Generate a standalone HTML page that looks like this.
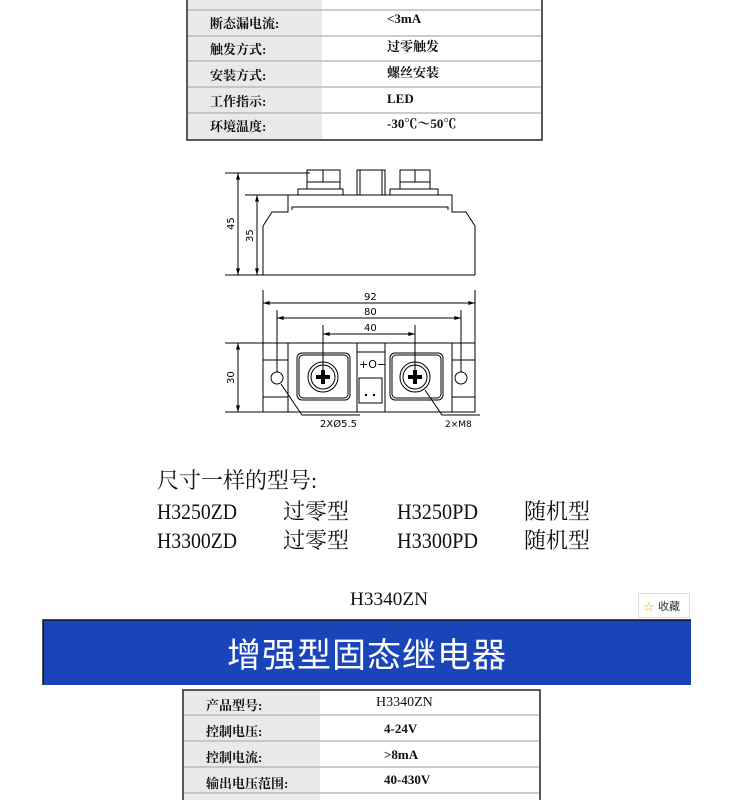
<!DOCTYPE html>
<html><head><meta charset="utf-8"><style>
html,body{margin:0;padding:0;background:#fff;width:750px;height:800px;overflow:hidden}
</style></head><body>
<svg width="750" height="800" viewBox="0 0 750 800" xmlns="http://www.w3.org/2000/svg" style="display:block">
<defs>
<marker id="a" viewBox="0 0 10 6" refX="10" refY="3" markerWidth="8" markerHeight="4" orient="auto-start-reverse"><path d="M0,0L10,3L0,6z" fill="#000"/></marker>
</defs>
<!-- Table 1 -->
<g font-family="Liberation Serif,'Noto Serif CJK SC',serif" font-size="13" font-weight="bold" fill="#111">
<rect x="187" y="-2" width="355" height="142" fill="#fff" stroke="#222" stroke-width="1.5"/>
<rect x="188" y="0" width="134" height="139" fill="#e9e9e9"/>
<g stroke="#bbb" stroke-width="1.5">
<line x1="188" y1="10" x2="541" y2="10"/><line x1="188" y1="36" x2="541" y2="36"/>
<line x1="188" y1="61" x2="541" y2="61"/><line x1="188" y1="87" x2="541" y2="87"/>
<line x1="188" y1="113" x2="541" y2="113"/></g>
<text x="210" y="28">断态漏电流:</text>
<text x="210" y="54">触发方式:</text>
<text x="210" y="80">安装方式:</text>
<text x="210" y="106">工作指示:</text>
<text x="210" y="131">环境温度:</text>
<text x="387" y="23">&lt;3mA</text>
<text x="387" y="51">过零触发</text>
<text x="387" y="77">螺丝安装</text>
<text x="387" y="103">LED</text>
<text x="387" y="128">-30℃～50℃</text>
</g>
<!-- Side view -->
<g stroke="#000" stroke-width="1" fill="none">
<line x1="225" y1="173" x2="310" y2="173"/>
<line x1="245" y1="195" x2="290" y2="195"/>
<line x1="225" y1="275" x2="475" y2="275"/>
<line x1="238" y1="173" x2="238" y2="275" marker-start="url(#a)" marker-end="url(#a)"/>
<line x1="257" y1="195" x2="257" y2="275" marker-start="url(#a)" marker-end="url(#a)"/>
<path d="M263,275 V226 L272,212 H288 V195 H452 V212 H466 L475,226 V275"/>
<path d="M292,210 V207 H448 V210"/>
<rect x="298" y="189" width="45" height="6"/><rect x="307" y="170" width="33" height="19"/>
<line x1="323" y1="170" x2="323" y2="182"/><line x1="307" y1="182" x2="340" y2="182"/>
<rect x="390" y="189" width="48" height="6"/><rect x="400" y="170" width="30" height="19"/>
<line x1="415" y1="170" x2="415" y2="182"/><line x1="400" y1="182" x2="430" y2="182"/>
<rect x="357" y="170" width="28" height="25"/><line x1="360" y1="170" x2="360" y2="195"/><line x1="382" y1="170" x2="382" y2="195"/>
</g>
<g font-family="'DejaVu Sans',sans-serif" font-size="10" fill="#000">
<text transform="translate(234,230) rotate(-90)">45</text>
<text transform="translate(253,242) rotate(-90)">35</text>
</g>
<!-- Top view -->
<g stroke="#000" stroke-width="1" fill="none">
<line x1="263" y1="290" x2="263" y2="343"/><line x1="475" y1="290" x2="475" y2="343"/>
<line x1="277" y1="310" x2="277" y2="372"/><line x1="461" y1="310" x2="461" y2="372"/>
<line x1="323" y1="325" x2="323" y2="377"/><line x1="415" y1="325" x2="415" y2="377"/>
<line x1="263" y1="303" x2="475" y2="303" marker-start="url(#a)" marker-end="url(#a)"/>
<line x1="277" y1="318" x2="461" y2="318" marker-start="url(#a)" marker-end="url(#a)"/>
<line x1="323" y1="334" x2="415" y2="334" marker-start="url(#a)" marker-end="url(#a)"/>
<line x1="225" y1="343" x2="263" y2="343"/><line x1="225" y1="412" x2="263" y2="412"/>
<line x1="238" y1="343" x2="238" y2="412" marker-start="url(#a)" marker-end="url(#a)"/>
<rect x="263" y="343" width="212" height="69"/>
<line x1="288" y1="343" x2="288" y2="412"/><line x1="452" y1="343" x2="452" y2="412"/>
<line x1="263" y1="360" x2="288" y2="360"/><line x1="263" y1="397" x2="288" y2="397"/>
<line x1="452" y1="360" x2="475" y2="360"/><line x1="452" y1="397" x2="475" y2="397"/>
<circle cx="277" cy="378" r="6"/><circle cx="461" cy="378" r="6"/>
<rect x="297" y="353" width="53" height="47" rx="5"/><rect x="299" y="355" width="49" height="43" rx="4"/>
<circle cx="323" cy="377" r="15"/><circle cx="323" cy="377" r="12"/>
<rect x="390" y="353" width="53" height="47" rx="5"/><rect x="392" y="355" width="49" height="43" rx="4"/>
<circle cx="415" cy="377" r="15"/><circle cx="415" cy="377" r="12"/>
<line x1="357" y1="343" x2="357" y2="412"/><line x1="385" y1="343" x2="385" y2="412"/>
<line x1="357" y1="352" x2="385" y2="352"/>
<rect x="359" y="378" width="23" height="25"/>
<polyline points="281,384 302,415 360,415"/>
<polyline points="425,390 442,415 480,415"/>
</g>
<g fill="#000">
<path d="M321,370h4v5h5v4h-5v5h-4v-5h-5v-4h5z"/><path d="M413,370h4v5h5v4h-5v5h-4v-5h-5v-4h5z"/>
<circle cx="366" cy="395" r="1.2"/><circle cx="374" cy="395" r="1.2"/>
</g>
<g font-family="'DejaVu Sans',sans-serif" font-size="10" fill="#000">
<text x="364" y="300">92</text><text x="364" y="315">80</text><text x="364" y="331">40</text>
<text transform="translate(234,384) rotate(-90)">30</text>
<text x="359" y="368" font-size="11">+O−</text>
<text x="320" y="427">2XØ5.5</text>
<text x="445" y="427" font-size="9">2×M8</text>
</g>
<!-- Models text -->
<g font-family="'Liberation Serif','Noto Serif CJK SC',serif" font-size="22" fill="#111">
<text x="157" y="488">尺寸一样的型号:</text>
<text x="157" y="519" textLength="80" lengthAdjust="spacingAndGlyphs">H3250ZD</text>
<text x="283" y="519">过零型</text>
<text x="397" y="519" textLength="81" lengthAdjust="spacingAndGlyphs">H3250PD</text>
<text x="524" y="519">随机型</text>
<text x="157" y="548" textLength="80" lengthAdjust="spacingAndGlyphs">H3300ZD</text>
<text x="283" y="548">过零型</text>
<text x="397" y="548" textLength="81" lengthAdjust="spacingAndGlyphs">H3300PD</text>
<text x="524" y="548">随机型</text>
<text x="350" y="605" font-size="19" textLength="78" lengthAdjust="spacingAndGlyphs">H3340ZN</text>
</g>
<!-- star box -->
<rect x="638.5" y="593.5" width="51" height="24" fill="#fff" stroke="#ddd"/>
<text x="643" y="611" font-family="'DejaVu Sans',sans-serif" font-size="13" fill="#e8a400">☆</text>
<text x="658" y="610" font-family="'Noto Sans CJK SC',sans-serif" font-size="11" fill="#333">收藏</text>
<!-- banner -->
<rect x="43" y="620" width="648" height="65" fill="#1a45b8"/>
<path d="M43,685V620H691" stroke="#111" stroke-width="1.5" fill="none"/>
<text x="367" y="667" text-anchor="middle" font-family="'Noto Sans CJK SC',sans-serif" font-size="34" fill="#fff" letter-spacing="1">增强型固态继电器</text>
<!-- Table 2 -->
<g font-family="'Liberation Serif','Noto Serif CJK SC',serif" font-size="13" fill="#111">
<rect x="183" y="690" width="357" height="115" fill="#fff" stroke="#222" stroke-width="1.5"/>
<rect x="184" y="691" width="136" height="110" fill="#e9e9e9"/>
<g stroke="#bbb" stroke-width="1.5">
<line x1="184" y1="715" x2="539" y2="715"/><line x1="184" y1="741" x2="539" y2="741"/>
<line x1="184" y1="767" x2="539" y2="767"/><line x1="184" y1="793" x2="539" y2="793"/></g>
<g font-weight="bold">
<text x="206" y="710">产品型号:</text>
<text x="206" y="736">控制电压:</text>
<text x="206" y="762">控制电流:</text>
<text x="206" y="788">输出电压范围:</text>
<text x="384" y="733">4-24V</text>
<text x="384" y="759">&gt;8mA</text>
<text x="384" y="784">40-430V</text>
</g>
<text x="376" y="706" font-size="14">H3340ZN</text>
</g>
</svg>
</body></html>
